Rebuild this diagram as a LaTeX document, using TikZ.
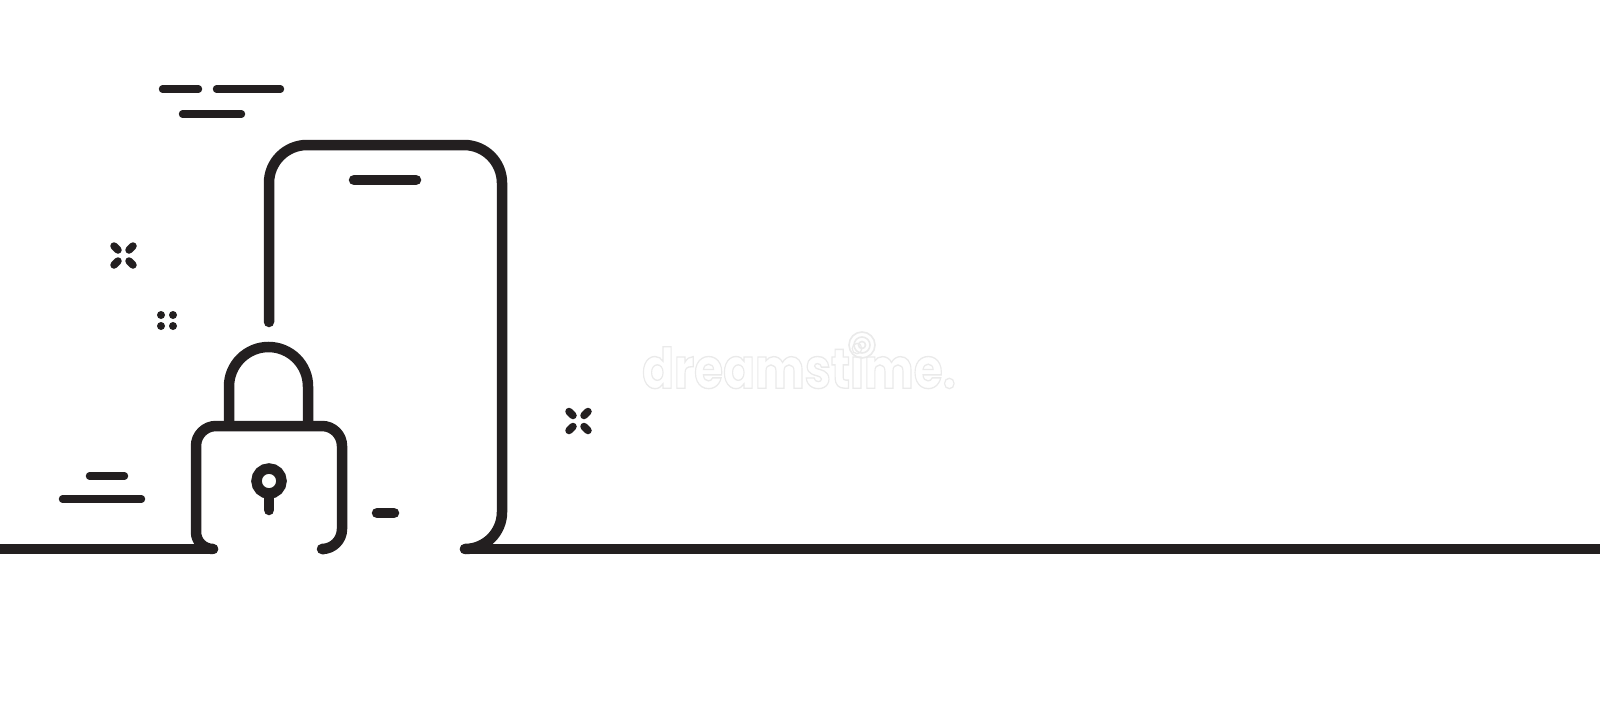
\documentclass[tikz,border=0pt]{standalone}
\usepackage{fontspec}
\setmainfont{Poppins}
\definecolor{ink}{HTML}{231F20}
\definecolor{wm}{HTML}{EAEAEA}
\tikzset{
  heavy/.style={draw=ink,line width=10.5pt,line cap=round,line join=round},
  flat heavy/.style={draw=ink,line width=10.5pt,line cap=butt},
  thin dash/.style={draw=ink,line width=7.4pt,line cap=round},
  speck/.style={draw=ink,line width=7.5pt,line cap=round},
  faint/.style={draw=wm,line width=1.6pt}
}
\newcommand{\crossmark}[2]{%
  \draw[speck] (#1-9.5,#2-9.5) -- (#1-5.5,#2-5.5);
  \draw[speck] (#1+9.5,#2-9.5) -- (#1+5.5,#2-5.5);
  \draw[speck] (#1-9.5,#2+9.5) -- (#1-5.5,#2+5.5);
  \draw[speck] (#1+9.5,#2+9.5) -- (#1+5.5,#2+5.5);
}
\begin{document}
\begin{tikzpicture}[x=1pt,y=-1pt]
\useasboundingbox (0,0) rectangle (1600,715);
\fill[white] (0,0) rectangle (1600,715);
% watermark
\node[text=wm,inner sep=0pt,anchor=center,xscale=0.94,yscale=1.12] (mark) at (799,366) {\fontsize{50}{50}\selectfont\bfseries\special{pdf:code 1 Tr 1.2 w}dreamstime.\special{pdf:code 0 Tr}};
\draw[faint] (862,345) circle[radius=13];
\draw[faint] (862,345) circle[radius=8];
\draw[faint] (862,345) circle[radius=3.5];
% baseline
\draw[flat heavy] (0,549) -- (205,549);
\draw[heavy] (205,549) -- (213,549);
\draw[heavy] (465,549) -- (480,549);
\draw[flat heavy] (480,549) -- (1600,549);
% phone
\draw[heavy] (269,322) -- (269,183) arc[start angle=180,end angle=270,radius=38] -- (464,145)
  arc[start angle=270,end angle=360,radius=38] -- (502,512) arc[start angle=0,end angle=90,radius=37];
\draw[heavy] (354,180) -- (416,180);
\draw[heavy] (377,513) -- (394,513);
% lock
\draw[heavy] (213,549) arc[start angle=90,end angle=180,radius=17] -- (196,446)
  arc[start angle=180,end angle=270,radius=20] -- (322,426)
  arc[start angle=270,end angle=360,radius=20] -- (342,529)
  arc[start angle=0,end angle=90,radius=20] -- (324,549);
\draw[flat heavy] (229,426) -- (229,386.5) arc[start angle=180,end angle=360,radius=39.5] -- (308,426);
\draw[flat heavy] (269,481) circle[radius=12.5];
\draw[heavy] (269,497) -- (269,510);
% dashes
\draw[thin dash] (162.5,89) -- (198.5,89);
\draw[thin dash] (216.5,89) -- (280.5,89);
\draw[thin dash] (182.5,114) -- (241.5,114);
\draw[thin dash] (89.5,476) -- (124.5,476);
\draw[thin dash] (62.5,499) -- (141.5,499);
% specks
\crossmark{123.5}{255.5}
\crossmark{578.5}{421}
\fill[ink] (161,315) circle[radius=4];
\fill[ink] (173,315) circle[radius=4];
\fill[ink] (161,326) circle[radius=4];
\fill[ink] (173,326) circle[radius=4];
\end{tikzpicture}
\end{document}
